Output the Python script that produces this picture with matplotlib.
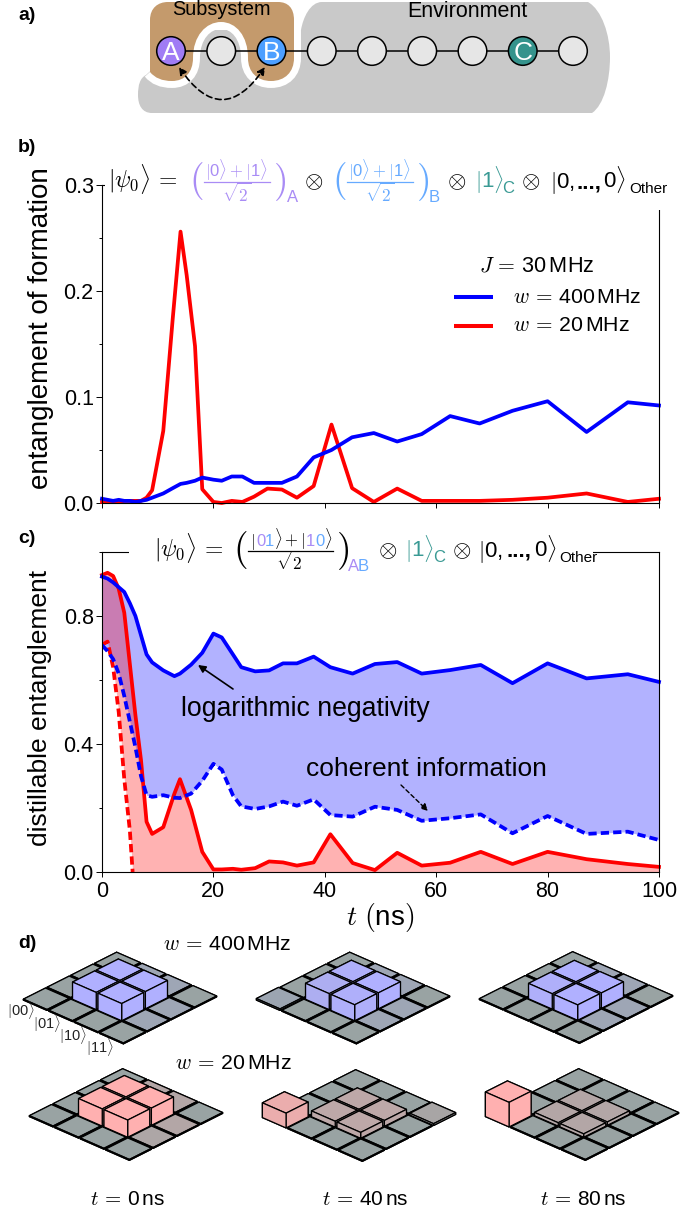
import numpy as np
import matplotlib
matplotlib.use("Agg")
import matplotlib.pyplot as plt
from matplotlib.patches import PathPatch, Circle, Rectangle, FancyArrowPatch
from matplotlib.path import Path
from matplotlib.ticker import MultipleLocator

plt.rcParams['font.family'] = ['Liberation Sans', 'DejaVu Sans']
plt.rcParams['mathtext.fontset'] = 'cm'

W, H = 680, 1212
PURPLE, SKY, TEAL = '#a98cf5', '#66aaff', '#3a9a94'

# panel b data
t_b = [0, 1, 2, 3, 4, 5, 6, 7, 8, 9, 11, 12.7, 14.1, 15.2, 16.7, 18, 20, 21.5, 23.3, 25.2, 27.3, 29.7, 32.3, 35, 38,
       41.2, 44.9, 48.8, 53, 57.4, 62.5, 67.8, 73.7, 80, 87, 94.4, 100]
eof_400 = [.004, .003, .002, .003, .002, .002, .001, .002, .003, .005, .009, .014, .018, .019, .021, .024, .022,
           .021, .025, .025, .019, .019, .019, .025, .043, .05, .062, .066, .058, .065, .082, .075, .087, .096,
           .067, .095, .092]
eof_20 = [.001, .001, .001, .001, .002, .002, .002, .002, .005, .012, .068, .174, .256, .215, .148, .013, .001,
          0, .002, .001, .006, .0136, .0127, .005, .016, .074, .014, .001, .0136, .002, .002, .002, .003, .005,
          .009, .001, .004]

# panel c data
t_c = [0, 1, 2, 3, 4, 5, 6, 7, 8, 9, 11, 13, 14, 16, 18, 20, 21.5, 23.5, 25, 27.5, 30, 32.5, 35, 38, 41, 45, 49, 53,
       57.4, 62.5, 68, 73.7, 80, 87, 94.4, 100]
ln_400 = [.923, .917, .905, .89, .875, .84, .80, .74, .68, .655, .63, .612, .62, .648, .685, .745, .733, .68, .64,
          .627, .63, .652, .652, .673, .64, .62, .65, .656, .62, .631, .647, .59, .652, .605, .618, .594]
ci_400 = [.709, .69, .665, .62, .55, .47, .39, .30, .24, .235, .24, .232, .231, .245, .285, .338, .32, .24, .205,
          .197, .205, .22, .207, .227, .178, .173, .204, .194, .16, .168, .18, .121, .175, .119, .126, .10]
ln_20 = [.928, .935, .925, .885, .81, .65, .49, .35, .157, .119, .14, .245, .29, .194, .063, .008, .008, .01, .007,
         .012, .033, .03, .02, .03, .118, .028, .006, .06, .02, .029, .063, .025, .063, .04, .025, .016]
t_ci_20 = [0, 1, 2, 3, 4, 5, 5.5]
ci_20 = [.71, .72, .64, .50, .29, .13, 0]

# panel d data: (rows |00>..|11>) bar heights and tint towards the series colour
floor = .03
dens_times = ['0', '40', '80']
def block(c, a=floor, d=floor):
    return [[a, floor, floor, floor], [floor, c, c, floor], [floor, c, c, floor], [floor, floor, floor, d]]
h_400 = [block(.56), block(.52, a=.05), block(.50)]
h_20 = [block(.56), block(.19, a=.48, d=.06), block(.11, a=.80)]
tint_400 = [[[0, 0, 0, 0], [0, 1, 1, .2], [0, 1, 1, .2], [0, .2, .2, 0]],
            [[.15, 0, 0, 0], [0, .85, .95, .2], [0, .95, 1, .2], [0, .2, .2, 0]],
            [[0, 0, 0, 0], [0, .95, 1, .2], [0, 1, 1, .2], [0, .2, .2, 0]]]
tint_20 = [[[0, 0, 0, 0], [0, 1, 1, .25], [0, 1, 1, .25], [0, .2, .25, 0]],
           [[.8, 0, 0, 0], [0, .35, .35, 0], [0, .35, .35, 0], [0, 0, 0, .15]],
           [[1, 0, 0, 0], [0, .25, .25, 0], [0, .25, .25, 0], [0, 0, 0, 0]]]
basis = ['00', '01', '10', '11']

qubits = ['A', '', 'B', '', '', '', '', 'C', '']
qubit_fill = {'A': '#a07cf5', 'B': '#4d9fff', 'C': '#35938c', '': '#e6e6e6'}


def px_axes(x0, y0, x1, y1, **kw):
    return fig.add_axes([x0 / W, 1 - y1 / H, (x1 - x0) / W, (y1 - y0) / H], **kw)


fig = plt.figure(figsize=(W / 100, H / 100), dpi=100)
LW = 2.7

# ---------------- b
axb = px_axes(102, 185, 659, 503)
axb.plot(t_b, eof_20, color='#ff0000', lw=LW, clip_on=False)
axb.plot(t_b, eof_400, color='#0000ff', lw=LW, clip_on=False)
axb.set_xlim(0, 100)
axb.set_ylim(0, .3)
axb.set_yticks([0, .1, .2, .3])
axb.set_yticklabels(['0.0', '0.1', '0.2', '0.3'])
axb.yaxis.set_minor_locator(MultipleLocator(.05))
axb.xaxis.set_major_locator(MultipleLocator(20))
axb.set_xticklabels([])

# ---------------- c
axc = px_axes(102, 552, 659, 872)
tf = np.union1d(t_c, t_ci_20)
axc.fill_between(tf, np.interp(tf, t_c, ci_400), np.interp(tf, t_c, ln_400), color='#0000ff', alpha=.3, lw=0)
axc.fill_between(tf, np.interp(tf, t_ci_20, ci_20, right=0), np.interp(tf, t_c, ln_20), color='#ff0000', alpha=.3, lw=0)
axc.plot(t_c, ln_20, color='#ff0000', lw=LW, clip_on=False)
axc.plot(t_ci_20, ci_20, color='#ff0000', lw=LW, ls=(0, (2.2, 1.1)), dash_capstyle='butt')
axc.plot(t_c, ln_400, color='#0000ff', lw=LW, clip_on=False)
axc.plot(t_c, ci_400, color='#0000ff', lw=LW, ls=(0, (2.2, 1.1)), dash_capstyle='butt')
axc.set_xlim(0, 100)
axc.set_ylim(0, 1)
axc.set_yticks([0, .4, .8])
axc.set_yticklabels(['0.0', '0.4', '0.8'])
axc.yaxis.set_minor_locator(MultipleLocator(.2))
axc.xaxis.set_major_locator(MultipleLocator(20))

for ax in (axb, axc):
    ax.tick_params(which='major', length=4, width=.7, labelsize=15.5, pad=2)
    ax.tick_params(which='minor', length=2.5, width=.7)
    ax.tick_params(axis='x', which='major', length=3.5, pad=3)
    for s in ax.spines.values():
        s.set_linewidth(.8)
    ax.spines['left'].set_linestyle((0, (4, 1)))
    ax.spines['bottom'].set_linestyle((0, (4, 1)))
axc.spines['right'].set_linestyle((0, (6, 1)))

# ---------------- d
BASE = {'b': np.array(matplotlib.colors.to_rgb('#b0b0ff')), 'r': np.array(matplotlib.colors.to_rgb('#ffb0b0'))}
GREY = np.array(matplotlib.colors.to_rgb('#99a3a3'))
S = 234.0
centers = {'b': [(120, 998.5), (353, 998.5), (576, 998)], 'r': [(126, 1115), (359, 1116), (582, 1115)]}
for key, hs, ts in (('b', h_400, tint_400), ('r', h_20, tint_20)):
    for (cx, cy), hh, tt in zip(centers[key], hs, ts):
        x0 = cx - .5135 * S
        y0 = cy - (1 - .5135) * S
        a3 = px_axes(x0, y0, x0 + S, y0 + S, projection='3d')
        a3.set_proj_type('ortho')
        a3.view_init(elev=28, azim=-47)
        a3.set_xlim(0, 4)
        a3.set_ylim(0, 4)
        a3.set_zlim(-2, 2)
        a3.set_box_aspect((1, 1, 1))
        a3.set_axis_off()
        a3.patch.set_alpha(0)
        I, J = np.meshgrid(range(4), range(4), indexing='ij')
        hv = np.array(hh).ravel()
        tv = np.array(tt).ravel()
        cols = [tuple(GREY + (BASE[key] - GREY) * t) for t in tv]
        a3.bar3d(I.ravel() + .035, J.ravel() + .035, 0 * hv, .93, .93, hv, color=cols, shade=False,
                 edgecolor='black', linewidth=.9)

# ---------------- overlay
ov = fig.add_axes([0, 0, 1, 1], zorder=10)
ov.set_xlim(0, W)
ov.set_ylim(H, 0)
ov.axis('off')
ov.patch.set_alpha(0)
ov.add_patch(Rectangle((105, 170), 565, 40, fc='white', ec='none', zorder=1))
ov.add_patch(Rectangle((129, 540), 464, 32, fc='white', ec='none', zorder=1))


def T(x, y, s, size=14, color='black', ha='left', va='baseline', **kw):
    return ov.text(x, y, s, fontsize=size, color=color, ha=ha, va=va, zorder=5, **kw)


for lab, y in (('a)', 20), ('b)', 152), ('c)', 543), ('d)', 948)):
    T(18, y, lab, size=14, fontweight='bold')

# panel a schematic
M, L, C4, Z = Path.MOVETO, Path.LINETO, Path.CURVE4, Path.CLOSEPOLY
def mk(cmds):
    vs, cs = [], []
    for c in cmds:
        if c[0] == 'M': vs.append(c[1]); cs.append(M)
        elif c[0] == 'L': vs.append(c[1]); cs.append(L)
        elif c[0] == 'C': vs += [c[1], c[2], c[3]]; cs += [C4, C4, C4]
        elif c[0] == 'Z': vs.append((0, 0)); cs.append(Z)
    return Path(vs, cs)

grey = mk([('M', (322, 2)), ('L', (588, 2)), ('C', (602, 10), (610, 35), (610, 57)),
           ('C', (610, 80), (604, 105), (592, 113)), ('L', (152, 113)), ('C', (142, 113), (138, 105), (138, 95)),
           ('C', (138, 85), (140, 78), (146, 75)), ('L', (195, 30)), ('L', (301, 30)),
           ('C', (303, 18), (310, 2), (322, 2)), ('Z',)])
ov.add_patch(PathPatch(grey, fc='#c9c9c9', ec='none', zorder=1))
edge = [('M', (294, 12)), ('L', (294, 58)), ('C', (294, 72), (285, 81), (271, 81)), ('C', (257, 81), (248, 72), (248, 58)),
        ('C', (248, 36), (236, 22), (221, 22)), ('C', (206, 22), (193, 36), (193, 58)),
        ('C', (193, 72), (185, 81), (172, 81)), ('C', (162, 81), (155, 78), (150, 72))]
ov.add_patch(PathPatch(mk(edge), fc='none', ec='white', lw=10, zorder=1.1, capstyle='butt'))
brown = mk([('M', (150, 72)), ('L', (150, 20)), ('C', (150, 8), (158, 2), (168, 2)), ('L', (278, 2)),
            ('C', (288, 2), (294, 8), (294, 20))] + edge[1:] + [('Z',)])
ov.add_patch(PathPatch(brown, fc='#c49a6c', ec='none', zorder=1.2))
qx = 171 + 50.25 * np.arange(len(qubits))
ov.plot(qx, 0 * qx + 51, color='black', lw=1.1, zorder=1.3)
for x, q in zip(qx, qubits):
    ov.add_patch(Circle((x, 51), 14.3, fc=qubit_fill[q], ec='black', lw=1.1, zorder=1.4))
    if q:
        ov.text(x, 60, q, color='white', fontsize=19, ha='center', va='baseline', zorder=1.5)
ov.add_patch(FancyArrowPatch((179, 67), (265, 67), connectionstyle='arc3,rad=0.74', arrowstyle='<|-|>', mutation_scale=11,
                             ls=(0, (3.5, 2.2)), lw=1.2, color='black', zorder=1.5, shrinkA=0, shrinkB=0))
T(221, 15, 'Subsystem', size=14.3, ha='center')
T(467, 17, 'Environment', size=15.5, ha='center')

# state titles
TS = 17
def bra_frac(xl, xr, yaxis, parts, color):
    """xl, xr: ends of the fraction bar; parts: numerator pieces."""
    T(xl - 15, yaxis + 9.5, r'$($', 27, color)
    T(xr + 3, yaxis + 9.5, r'$)$', 27, color)
    ov.plot([xl, xr], [yaxis, yaxis], color=color, lw=.9, zorder=4)
    T((xl + xr) / 2, yaxis + 19.5, r'$\sqrt{\mathsf{2}}$', 12.5, color, ha='center')
    for x, s, c in parts:
        T(x, yaxis - 5, s, 12, c)

y = 188
axis_y = 182
T(108, y, r'$|\psi_0\rangle\,=$', TS)
bra_frac(204, 270, axis_y, [(205, r'$|$0$\rangle+|$1$\rangle$', PURPLE)], PURPLE)
T(287, 201.5, 'A', 12, PURPLE)
T(304, y, r'$\otimes$', TS)
bra_frac(347, 413, axis_y, [(348, r'$|$0$\rangle+|$1$\rangle$', SKY)], SKY)
T(429, 201.5, 'B', 12, SKY)
T(447, y, r'$\otimes$', TS)
T(475, y, r'$|$1$\rangle$', 16, TEAL)
T(502, 193, 'C', 12, TEAL)
T(521, y, r'$\otimes$', TS)
T(550, y, r'$|$0,', 16)
T(577, y, '...,', 16, fontweight='bold')
T(603, y, r'0$\rangle$', 16)
T(629, 193, 'Other', 11)

y = 557
axis_y = 550.5
T(154, y, r'$|\psi_0\rangle\,=$', TS)
bra_frac(248, 333, axis_y, [(250, r'$|$', 'black'), (256, '0', PURPLE), (265, '1', SKY), (274, r'$\rangle+|$', 'black'),
                            (306, '1', PURPLE), (315, '0', SKY), (324, r'$\rangle$', 'black')], 'black')
T(348, 571, 'A', 12, PURPLE)
T(357.5, 571, 'B', 12, SKY)
T(378, y, r'$\otimes$', TS)
T(405, y, r'$|$1$\rangle$', 16, TEAL)
T(433, 562, 'C', 12, TEAL)
T(452, y, r'$\otimes$', TS)
T(478, y, r'$|$0,', 16)
T(507, y, '...,', 16, fontweight='bold')
T(534, y, r'0$\rangle$', 16)
T(559, 562, 'Other', 11)

# legend of b
T(479, 272, r'$J\,=\,$30$\,$MHz', 15.6)
ov.plot([454, 493], [297, 297], color='#0000ff', lw=2.9, solid_capstyle='butt')
ov.plot([454, 493], [326, 326], color='#ff0000', lw=2.9, solid_capstyle='butt')
T(513, 303, r'$w\,=\,$400$\,$MHz', 15.3)
T(513, 331, r'$w\,=\,$20$\,$MHz', 15.3)

# axis labels
T(41, 328, 'entanglement of formation', 20, ha='center', va='center', rotation=90)
T(40, 708, 'distillable entanglement', 19, ha='center', va='center', rotation=90)
T(380, 925, r'$t\ ($ns$)$', 20, ha='center')

# annotations
T(181, 716, 'logarithmic negativity', 19.2)
T(306, 776, 'coherent information', 19)
ov.annotate('', xy=(198, 665), xytext=(233, 689), arrowprops=dict(arrowstyle='-|>', color='black', lw=1.2, mutation_scale=11, shrinkA=0, shrinkB=0))
ov.annotate('', xy=(428, 811), xytext=(401, 785), arrowprops=dict(arrowstyle='-|>', color='black', lw=1, ls=(0, (3, 2)), mutation_scale=10, shrinkA=0, shrinkB=0))

# panel d labels
T(163, 950, r'$w\,=\,$400$\,$MHz', 15.3)
T(175, 1069, r'$w\,=\,$20$\,$MHz', 15.3)
for x, s in zip((128, 365, 583), dens_times):
    T(x, 1205, r'$t\,=\,$%s$\,$ns' % s, 15, ha='center')
for (x, yy), b in zip(((21, 1016), (47, 1029), (73, 1041), (100, 1053)), basis):
    T(x, yy, r'$|$%s$\rangle$' % b, 10.5, '#222222', ha='center')

fig.savefig('out.png', dpi=100)
